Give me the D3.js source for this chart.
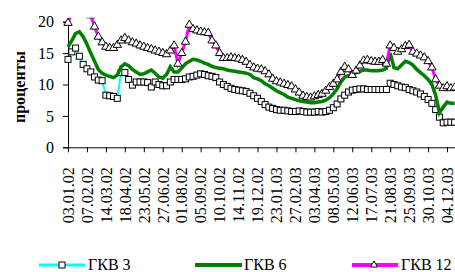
<!DOCTYPE html>
<html>
<head>
<meta charset="utf-8">
<script src="https://cdn.jsdelivr.net/npm/d3@7"></script>
<style>
    body { margin: 0; background: #fff; }
    svg text { font-family: 'Liberation Serif', LiberationSerif, Tinos, 'DejaVu Serif', serif !important; }
</style>
</head>
<body>
<div id="chart"></div>
<script>
// Tick labels (every 5th weekly observation)
const dateLabels = ['03.01.02', '07.02.02', '14.03.02', '18.04.02', '23.05.02', '27.06.02',
    '01.08.02', '05.09.02', '10.10.02', '14.11.02', '19.12.02', '23.01.03', '27.02.03',
    '03.04.03', '08.05.03', '12.06.03', '17.07.03', '21.08.03', '25.09.03', '30.10.03', '04.12.03'];

const seriesNames = ['ГКВ 3', 'ГКВ 6', 'ГКВ 12'];

// Weekly yields, %
const gkv3 = [14.0, 15.2, 15.8, 14.5, 13.2, 12.5, 12.0, 11.2, 10.7, 10.6,
    8.3, 8.2, 8.1, 7.8, 11.9, 11.9, 10.8, 9.9, 10.4, 10.4,
    10.4, 10.3, 9.6, 10.4, 10.0, 9.8, 9.8, 10.4, 10.8, 10.8,
    10.8, 10.9, 11.2, 11.3, 11.5, 11.7, 11.6, 11.4, 11.3, 11.1,
    10.4, 10.0, 9.7, 9.4, 9.2, 9.1, 9.0, 8.9, 8.6, 8.2,
    7.8, 7.3, 6.8, 6.4, 6.2, 6.0, 5.9, 5.9, 5.8, 5.7,
    5.7, 5.8, 5.7, 5.6, 5.6, 5.6, 5.7, 5.6, 5.7, 5.9,
    6.3, 6.9, 7.7, 8.3, 8.8, 9.1, 9.2, 9.3, 9.3, 9.2,
    9.2, 9.2, 9.2, 9.2, 9.2, 10.2, 10.0, 9.8, 9.6, 9.5,
    9.2, 9.0, 8.8, 8.5, 8.1, 7.6, 7.0, 6.0, 4.8, 3.9,
    4.0, 4.0, 4.0];

const gkv6 = [16.0, 17.0, 18.1, 18.4, 17.6, 16.4, 15.0, 13.7, 12.4, 11.8,
    11.5, 11.3, 11.1, 11.5, 12.8, 13.3, 13.0, 12.4, 12.0, 11.6,
    11.7, 12.0, 12.3, 11.8, 11.2, 11.0, 11.6, 12.8, 12.0, 12.0,
    12.6, 13.3, 13.7, 14.0, 13.9, 13.7, 13.4, 13.2, 12.9, 12.7,
    12.6, 12.5, 12.3, 12.2, 12.1, 12.0, 11.9, 11.8, 11.6, 11.1,
    10.9, 10.6, 10.1, 9.8, 9.4, 9.0, 8.7, 8.4, 8.0, 7.8,
    7.6, 7.4, 7.3, 7.2, 7.1, 7.1, 7.2, 7.3, 7.5, 7.9,
    8.5, 9.3, 10.4, 11.2, 11.4, 11.6, 11.9, 12.1, 12.3, 12.3,
    12.2, 12.2, 12.2, 12.3, 12.6, 15.0, 12.7, 12.5, 13.1, 13.7,
    13.5, 13.1, 12.4, 11.9, 11.4, 10.8, 10.0, 8.3, 5.5, 6.4,
    7.2, 7.0, 7.0];

const gkv12 = [19.8, 21.5, 22.5, 23.0, 23.0, 22.5, 21.0, 19.2, 17.6, 16.7,
    16.0, 15.8, 15.8, 16.3, 17.0, 17.4, 17.0, 16.7, 16.5, 16.2,
    16.0, 15.8, 15.6, 15.4, 15.2, 15.0, 14.8, 15.4, 16.2, 13.3,
    15.0, 16.8, 19.5, 18.8, 18.6, 18.4, 18.3, 18.2, 17.0, 16.2,
    15.0, 14.2, 14.2, 14.3, 14.2, 14.1, 13.9, 13.6, 13.1, 12.7,
    12.5, 12.4, 12.1, 11.6, 10.9, 10.5, 10.3, 10.1, 9.9, 9.7,
    9.2, 8.7, 8.2, 8.0, 7.9, 8.1, 8.3, 8.5, 9.0, 9.6,
    10.1, 10.8, 12.0, 12.8, 12.4, 11.5, 12.2, 13.0, 13.8, 13.9,
    13.7, 13.6, 13.6, 13.9, 13.3, 16.2, 15.8, 15.2, 15.6, 16.1,
    16.3, 15.2, 14.9, 14.6, 14.3, 13.7, 12.7, 10.8, 9.8, 9.4,
    9.7, 9.4, 9.5];

const yTicks = [0, 5, 10, 15, 20];

const svg = d3.select('#chart')
    .append('svg')
    .attr('width', 455)
    .attr('height', 272);

// Scales
const x = d3.scaleLinear()
    .domain([0, 102.1])
    .range([68, 455]);

const y = d3.scaleLinear()
    .domain([0, 20])
    .range([147.3, 21.7]);

// Clip for values above 20
svg.append('clipPath')
    .attr('id', 'plot-clip')
    .append('rect')
    .attr('x', 60)
    .attr('y', y(20) - 4)
    .attr('width', 400)
    .attr('height', y(0) - y(20) + 8);

// Y axis
svg.append('g')
    .attr('transform', `translate(${x(0)},0)`)
    .call(d3.axisLeft(y).tickValues(yTicks).tickSize(5).tickPadding(9))
    .call(g => g.selectAll('text').style('font-size', '16px').attr('fill', '#000'))
    .call(g => g.selectAll('line, path').attr('stroke', '#000'));

// X axis
svg.append('g')
    .attr('transform', `translate(0,${y(0)})`)
    .call(d3.axisBottom(x)
        .tickValues(d3.range(0, 101, 5))
        .tickFormat(i => dateLabels[i / 5])
        .tickSize(5)
        .tickSizeOuter(0))
    .call(g => g.selectAll('line, path').attr('stroke', '#000'))
    .selectAll('text')
    .attr('fill', '#000')
    .style('font-size', '16px')
    .style('text-anchor', 'end')
    .attr('x', -20)
    .attr('y', 0)
    .attr('dy', '0.33em')
    .attr('transform', 'rotate(-90)');

// Y axis label
svg.append('text')
    .attr('transform', 'rotate(-90)')
    .attr('x', -87)
    .attr('y', 25)
    .style('text-anchor', 'middle')
    .style('font-size', '16px')
    .style('font-weight', 'bold')
    .text('проценты');

const plot = svg.append('g').attr('clip-path', 'url(#plot-clip)');

const line = d3.line()
    .x((d, i) => x(i))
    .y(d => y(d));

const triangle = d3.symbol().type(d3.symbolTriangle).size(30);

// ГКВ 3
plot.append('path')
    .datum(gkv3)
    .attr('d', line)
    .attr('fill', 'none')
    .attr('stroke', '#00ffff')
    .attr('stroke-width', 2);

plot.selectAll('.sq')
    .data(gkv3)
    .enter()
    .append('rect')
    .attr('class', 'sq')
    .attr('x', (d, i) => x(i) - 3)
    .attr('y', d => y(d) - 3)
    .attr('width', 6)
    .attr('height', 6)
    .attr('fill', '#fff')
    .attr('stroke', '#000')
    .attr('stroke-width', 1);

// ГКВ 6
plot.append('path')
    .datum(gkv6)
    .attr('d', line)
    .attr('fill', 'none')
    .attr('stroke', '#008000')
    .attr('stroke-width', 3.5);

// ГКВ 12
plot.append('path')
    .datum(gkv12)
    .attr('d', line)
    .attr('fill', 'none')
    .attr('stroke', '#ff00ff')
    .attr('stroke-width', 3);

plot.selectAll('.tri')
    .data(gkv12)
    .enter()
    .append('path')
    .attr('class', 'tri')
    .attr('d', triangle)
    .attr('transform', (d, i) => `translate(${x(i)},${y(d)})`)
    .attr('fill', '#fff')
    .attr('stroke', '#000')
    .attr('stroke-width', 1);

// Legend
const legendY = 265;
const legend = svg.append('g');

legend.append('line')
    .attr('x1', 39).attr('x2', 85)
    .attr('y1', legendY).attr('y2', legendY)
    .attr('stroke', '#00ffff').attr('stroke-width', 3);
legend.append('rect')
    .attr('x', 59).attr('y', legendY - 3)
    .attr('width', 6).attr('height', 6)
    .attr('fill', '#fff').attr('stroke', '#000');
legend.append('text')
    .attr('x', 88).attr('y', legendY + 5)
    .style('font-size', '16px')
    .text(seriesNames[0]);

legend.append('line')
    .attr('x1', 195).attr('x2', 242)
    .attr('y1', legendY).attr('y2', legendY)
    .attr('stroke', '#008000').attr('stroke-width', 4);
legend.append('text')
    .attr('x', 244).attr('y', legendY + 5)
    .style('font-size', '16px')
    .text(seriesNames[1]);

legend.append('line')
    .attr('x1', 352).attr('x2', 398)
    .attr('y1', legendY).attr('y2', legendY)
    .attr('stroke', '#ff00ff').attr('stroke-width', 4);
legend.append('path')
    .attr('d', d3.symbol().type(d3.symbolTriangle).size(22))
    .attr('transform', `translate(374,${legendY})`)
    .attr('fill', '#fff').attr('stroke', '#000');
legend.append('text')
    .attr('x', 401).attr('y', legendY + 5)
    .style('font-size', '16px')
    .text(seriesNames[2]);
</script>
</body>
</html>
